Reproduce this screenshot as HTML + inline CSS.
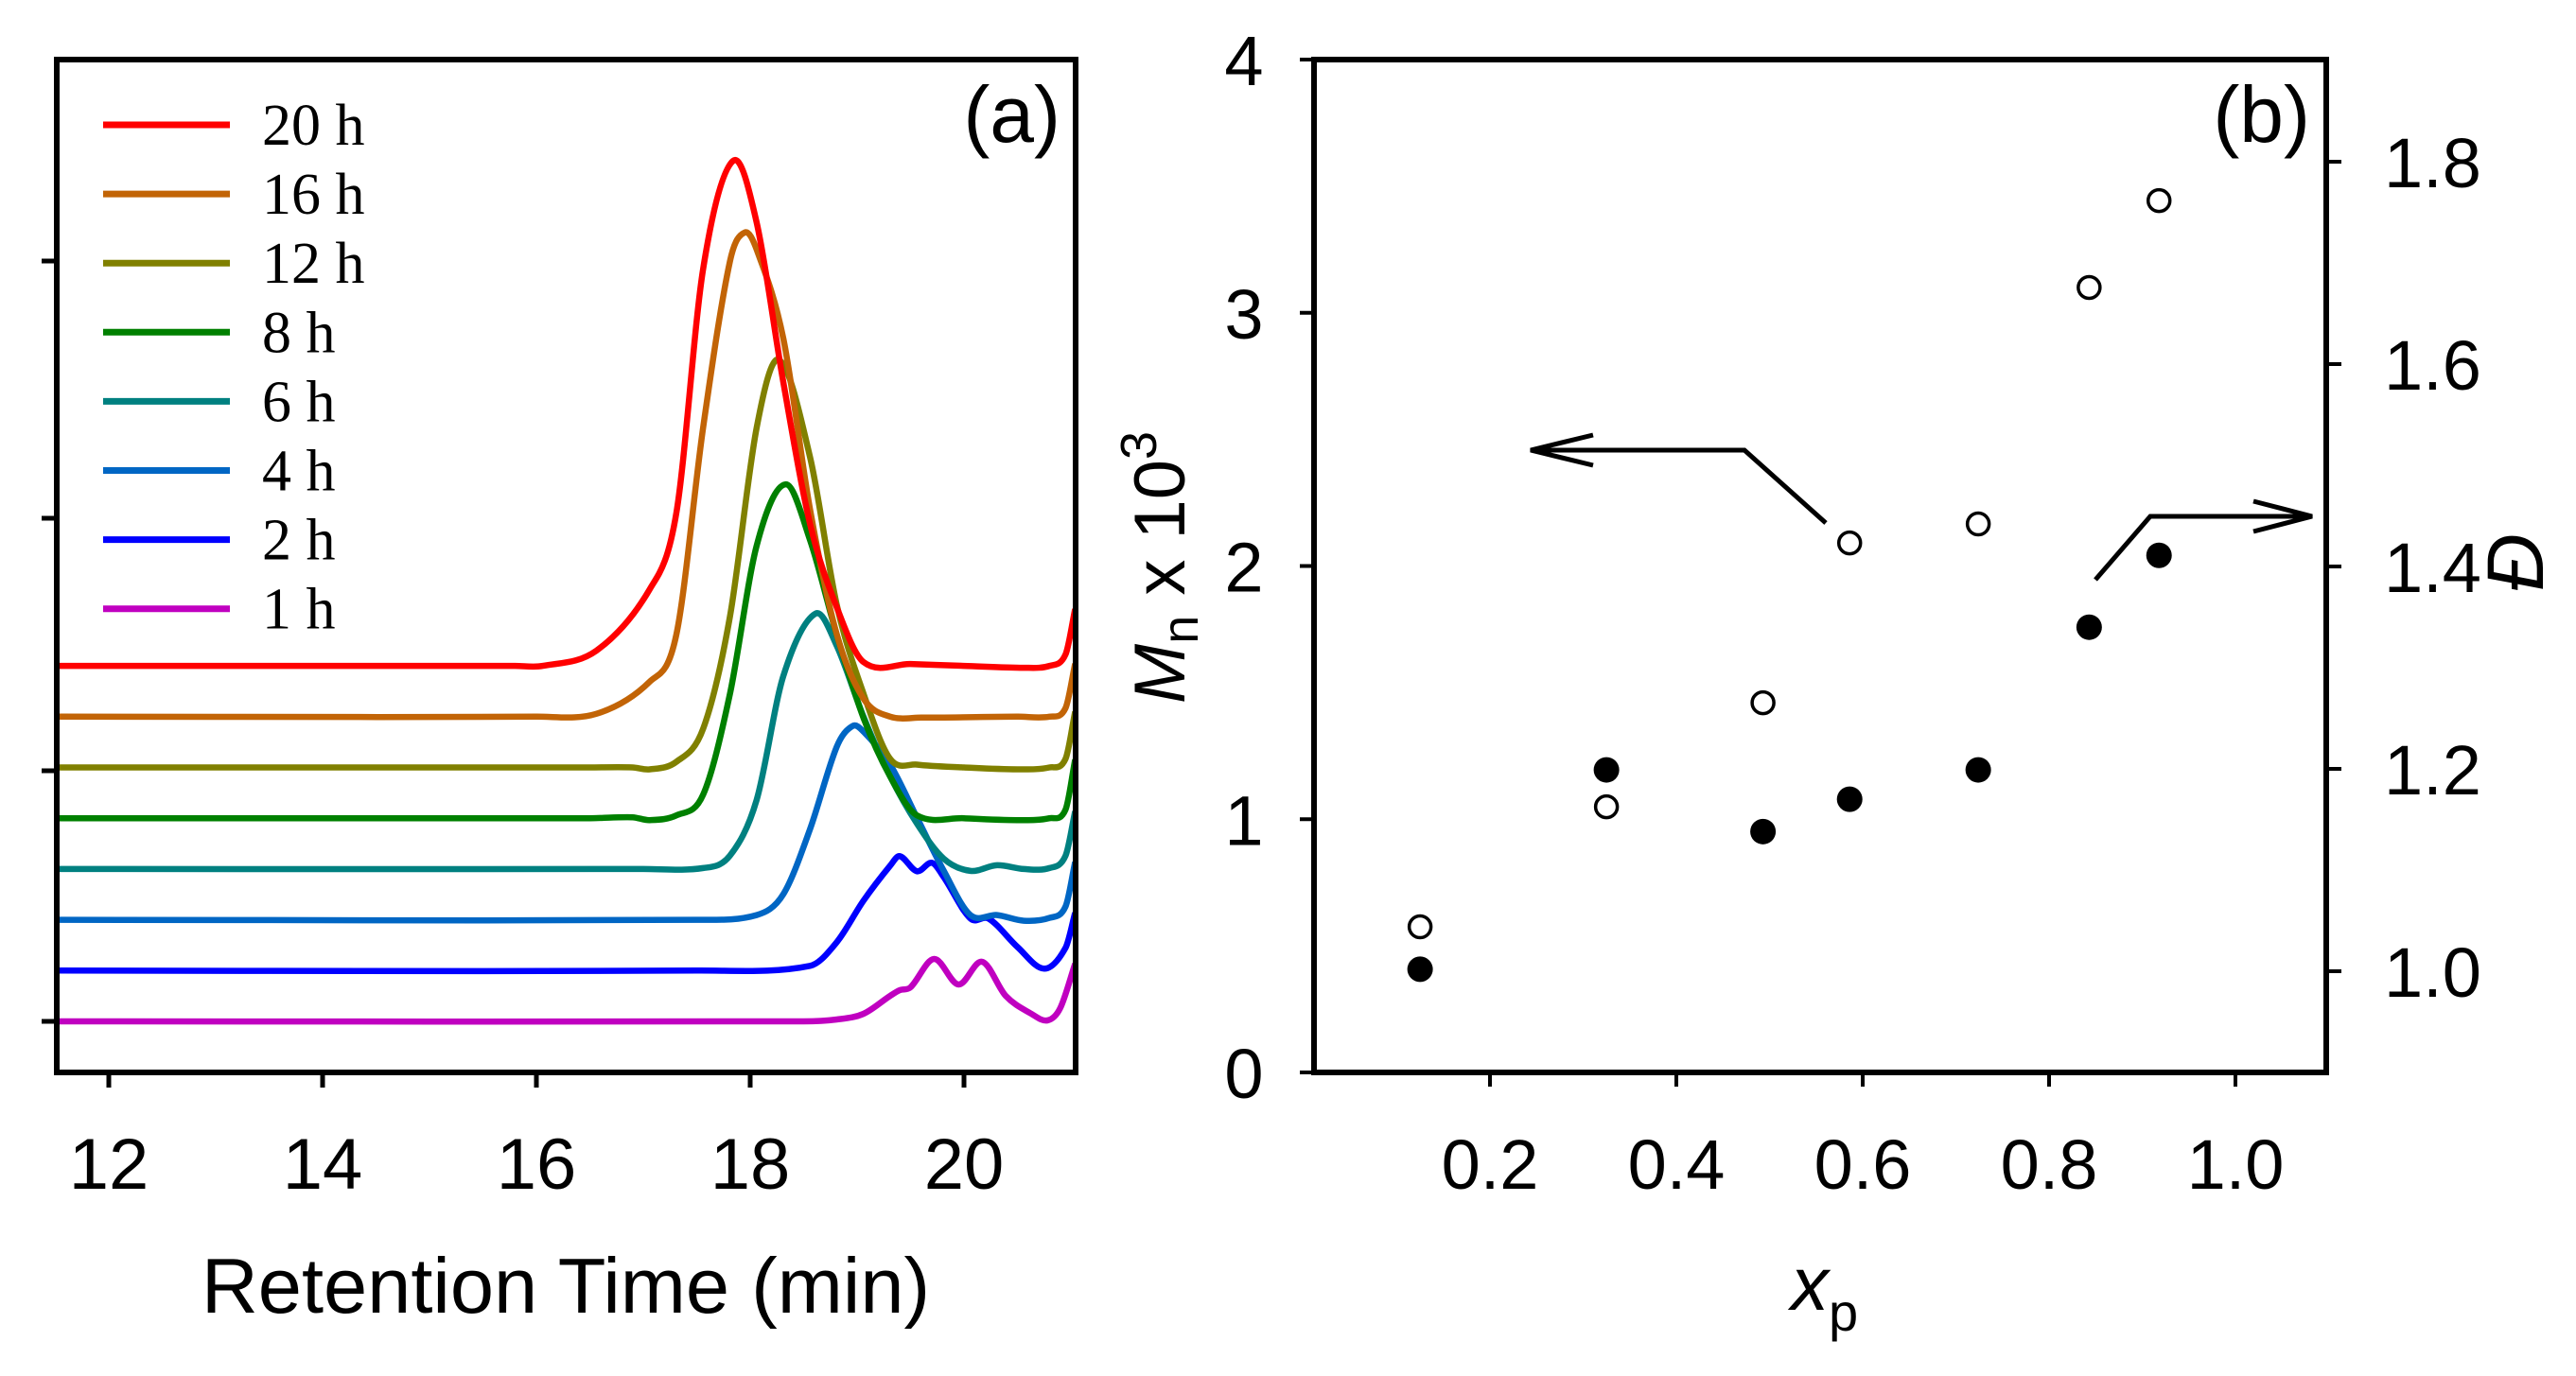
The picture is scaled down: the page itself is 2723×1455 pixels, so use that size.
<!DOCTYPE html>
<html>
<head>
<meta charset="utf-8">
<style>
html,body{margin:0;padding:0;background:#fff;}
svg{display:block;}
text{font-family:"Liberation Sans",Arial,sans-serif;fill:#000;}
.serif{font-family:"Liberation Serif","Times New Roman",serif;}
</style>
</head>
<body>
<svg id="fig" width="2723" height="1455" viewBox="0 0 2723 1455" xmlns="http://www.w3.org/2000/svg">
  <g id="panelA"></g>
  <g id="panelB"></g>
</svg>
<script>
// ---------- Panel (a) data ----------
const seriesLabels = ["20 h","16 h","12 h","8 h","6 h","4 h","2 h","1 h"];
const seriesColors = ["#ff0000","#c26406","#808000","#008000","#008080","#0066c4","#0000ff","#c000c0"];
const xTicksA = [12,14,16,18,20];
const t20 = [11.5,15.8,16.06,16.56,17.06,17.31,17.56,17.84,18.06,18.31,18.56,18.81,19.06,19.5,20,20.56,20.8,20.95,21.04];
const h20 = [0,0,0,16,81,162,420,534,469,300,150,62,4,2,0,-2,0,12,60];
const t16 = [11.5,16.0,16.56,17.06,17.31,17.56,17.81,17.95,18.06,18.31,18.56,18.81,19.06,19.31,19.6,20.5,20.8,20.95,21.04];
const h16 = [0,0,3,37,87,306,481,512,494,400,219,87,19,0,-1,0,0,9,56];
const t12 = [11.5,16.5,16.9,17.06,17.31,17.56,17.81,18.06,18.27,18.56,18.81,19.06,19.31,19.56,20,20.5,20.8,20.95,21.04];
const h12 = [0,0,0,-2,6,41,159,359,431,328,172,78,9,3,0,-2,0,9,59];
const t8 = [11.5,16.5,16.9,17.06,17.31,17.56,17.81,18.06,18.33,18.56,18.81,19.06,19.31,19.56,20,20.5,20.8,20.95,21.04];
const h8 = [0,0,1,-2,3,25,131,288,353,294,194,106,44,3,0,-2,0,9,62];
const t6 = [11.5,17.0,17.56,17.81,18.06,18.31,18.61,18.81,19.06,19.31,19.56,19.81,20.06,20.31,20.56,20.8,20.95,21.04];
const h6 = [0,0,1,14,73,204,270,236,161,98,48,11,-2,4,0,1,14,61];
const t4 = [11.5,17.5,18.06,18.31,18.56,18.81,18.96,19.06,19.31,19.56,19.81,20.06,20.31,20.56,20.8,20.95,21.04];
const h4 = [0,0,5,27,96,183,205,199,164,108,52,5,5,-1,2,14,61];
const t2 = [11.5,17.5,18.56,18.81,19.06,19.31,19.40,19.56,19.70,19.81,20.06,20.23,20.5,20.75,20.95,21.04];
const h2 = [0,0,5,30,74,111,121,105,114,99,55,55,25,2,24,61];
const t1 = [11.5,18.5,18.81,19.06,19.31,19.4,19.5,19.72,19.95,20.17,20.39,20.63,20.78,20.90,21.04];
const h1 = [0,0,2,8,27,33,36,66,39,63,27,8,1,14,61];
const traceTimes = [t20,t16,t12,t8,t6,t4,t2,t1];
const traceHeights = [h20,h16,h12,h8,h6,h4,h2,h1];
const stackStep = 53.7; // intensity offset between stacked traces

// ---------- Panel (b) data ----------
const xpOpen = [0.125,0.325,0.493,0.586,0.724,0.843,0.918];
const mnValues = [575,1049,1460,2091,2166,3100,3443];
const xpFilled = [0.125,0.325,0.493,0.586,0.724,0.843,0.918];
const dispValues = [1.002,1.199,1.138,1.170,1.199,1.340,1.411];
const xTicksB = [0.2,0.4,0.6,0.8,1.0];
const mnTicks = [0,1,2,3,4];
const dTicks = [1.0,1.2,1.4,1.6,1.8];

const NS = "http://www.w3.org/2000/svg";
function mk(tag, attrs, parent){
  const e = document.createElementNS(NS, tag);
  for (const k in attrs) e.setAttribute(k, attrs[k]);
  parent.appendChild(e);
  return e;
}

// ---------- Panel A ----------
const A = document.getElementById('panelA');
const aL=60, aR=1137, aT=63, aB=1134;
const xA = t => 115 + (t-12)*113;
const yA = (h, k) => 1080 - k*stackStep - h;  // k: 0 = bottom trace

// cubic Hermite in x (no backward loops)
function smoothPath(pts){
  const n = pts.length;
  const m = pts.map((p,i)=>{
    if (i===0) return (pts[1][1]-p[1])/(pts[1][0]-p[0]);
    if (i===n-1) return (p[1]-pts[n-2][1])/(p[0]-pts[n-2][0]);
    return (pts[i+1][1]-pts[i-1][1])/(pts[i+1][0]-pts[i-1][0]);
  });
  let d = "M"+pts[0][0].toFixed(1)+","+pts[0][1].toFixed(1);
  for (let i=0;i<n-1;i++){
    const p1 = pts[i], p2 = pts[i+1], dx = (p2[0]-p1[0])/3;
    d += " C"+(p1[0]+dx).toFixed(1)+","+(p1[1]+m[i]*dx).toFixed(1)+" "+(p2[0]-dx).toFixed(1)+","+(p2[1]-m[i+1]*dx).toFixed(1)+" "+p2[0].toFixed(1)+","+p2[1].toFixed(1);
  }
  return d;
}

for (let s=seriesLabels.length-1; s>=0; s--){
  const k = seriesLabels.length-1-s;
  const pts = traceTimes[s].map((t,i)=>[Math.max(xA(t),aL+3), yA(traceHeights[s][i], k)]);
  const p = mk('path',{d:smoothPath(pts),fill:'none',stroke:seriesColors[s],'stroke-width':6.5,'stroke-linejoin':'round'},A);
  
  
}

const fa = mk('rect',{x:aL,y:aT,width:aR-aL,height:aB-aT,fill:'none',stroke:'#000','stroke-width':6},A);


[276,548,815,1080].forEach(y=>{
  const t = mk('line',{x1:44,x2:aL,y1:y,y2:y,stroke:'#000','stroke-width':5},A);
  
  
});
xTicksA.forEach(v=>{
  const x = xA(v);
  const t = mk('line',{x1:x,x2:x,y1:aB,y2:1150,stroke:'#000','stroke-width':5},A);
  
  
  const l = mk('text',{x:x,y:1257,'font-size':76,'text-anchor':'middle'},A);
  l.textContent = v;
  
  
});
const xt = mk('text',{x:598,y:1388,'font-size':83,'text-anchor':'middle'},A);
xt.textContent = "Retention Time (min)";


const pa = mk('text',{x:1121,y:150,'font-size':84,'text-anchor':'end'},A);
pa.textContent = "(a)";


seriesLabels.forEach((lab,i)=>{
  const y = 132 + i*73.1;
  const ln = mk('line',{x1:109,x2:243,y1:y,y2:y,stroke:seriesColors[i],'stroke-width':7},A);
  
  
  const tx = mk('text',{x:277,y:y+21,'font-size':62,'class':'serif'},A);
  tx.textContent = lab;
  
  
});

// ---------- Panel B ----------
const B = document.getElementById('panelB');
const bL=1389, bR=2459, bT=63, bB=1134;
const xB = v => 1378 + v*985;
const yMn = v => 1134 - v*0.26775;
const yD = v => 1027 - (v-1)*1070;

const fb = mk('rect',{x:bL,y:bT,width:bR-bL,height:bB-bT,fill:'none',stroke:'#000','stroke-width':6},B);



mnTicks.forEach(v=>{
  const y = yMn(v*1000);
  const t = mk('line',{x1:1374,x2:bL,y1:y,y2:y,stroke:'#000','stroke-width':4},B);
  
  
  const l = mk('text',{x:1315,y:y+27,'font-size':74,'text-anchor':'middle'},B);
  l.textContent = v;
  
  
});
dTicks.forEach(v=>{
  const y = yD(v);
  const t = mk('line',{x1:bR,x2:2475,y1:y,y2:y,stroke:'#000','stroke-width':4},B);
  
  
  const l = mk('text',{x:2520,y:y+27,'font-size':74},B);
  l.textContent = v.toFixed(1);
  
  
});
xTicksB.forEach(v=>{
  const x = xB(v);
  const t = mk('line',{x1:x,x2:x,y1:bB,y2:1149,stroke:'#000','stroke-width':4},B);
  
  
  const l = mk('text',{x:x,y:1257,'font-size':74,'text-anchor':'middle'},B);
  l.textContent = v.toFixed(1);
  
  
});

xpOpen.forEach((v,i)=>{
  const c = mk('circle',{cx:xB(v),cy:yMn(mnValues[i]),r:11.5,fill:'#fff',stroke:'#000','stroke-width':3.5},B);
  
  
});
xpFilled.forEach((v,i)=>{
  const c = mk('circle',{cx:xB(v),cy:yD(dispValues[i]),r:13.5,fill:'#000'},B);
  
  
});

const ar1 = mk('polyline',{points:"1930,553 1844,476 1618,476",fill:'none',stroke:'#000','stroke-width':5},B);


const ah1 = mk('polyline',{points:"1684,460 1618,476 1684,492",fill:'none',stroke:'#000','stroke-width':5},B);


const ar2 = mk('polyline',{points:"2215,613 2273,546 2444,546",fill:'none',stroke:'#000','stroke-width':5},B);


const ah2 = mk('polyline',{points:"2382,530 2444,546 2382,562",fill:'none',stroke:'#000','stroke-width':5},B);



const pb = mk('text',{x:2442,y:150,'font-size':84,'text-anchor':'end'},B);
pb.textContent = "(b)";


</script>
<script>
const fig = document.getElementById('fig');
const ns = "http://www.w3.org/2000/svg";
const mn = document.createElementNS(ns,'text');
mn.setAttribute('transform','translate(1252,600) rotate(-90)');
mn.setAttribute('text-anchor','middle');
mn.setAttribute('font-size','76');
mn.innerHTML = '<tspan font-style="italic">M</tspan><tspan font-size="54" dy="14">n</tspan><tspan dy="-14"> x 10</tspan><tspan font-size="54" dy="-30">3</tspan>';


fig.appendChild(mn);
const dd = document.createElementNS(ns,'text');
dd.setAttribute('transform','translate(2688,595) rotate(-90)');
dd.setAttribute('text-anchor','middle');
dd.setAttribute('font-size','84');
dd.setAttribute('font-style','italic');
dd.textContent = 'Đ';


fig.appendChild(dd);
const xp = document.createElementNS(ns,'text');
xp.setAttribute('x','1893');
xp.setAttribute('y','1385');
xp.setAttribute('font-size','80');
xp.innerHTML = '<tspan font-style="italic">x</tspan><tspan font-size="56" dy="22">p</tspan>';


fig.appendChild(xp);
</script>
</body>
</html>
